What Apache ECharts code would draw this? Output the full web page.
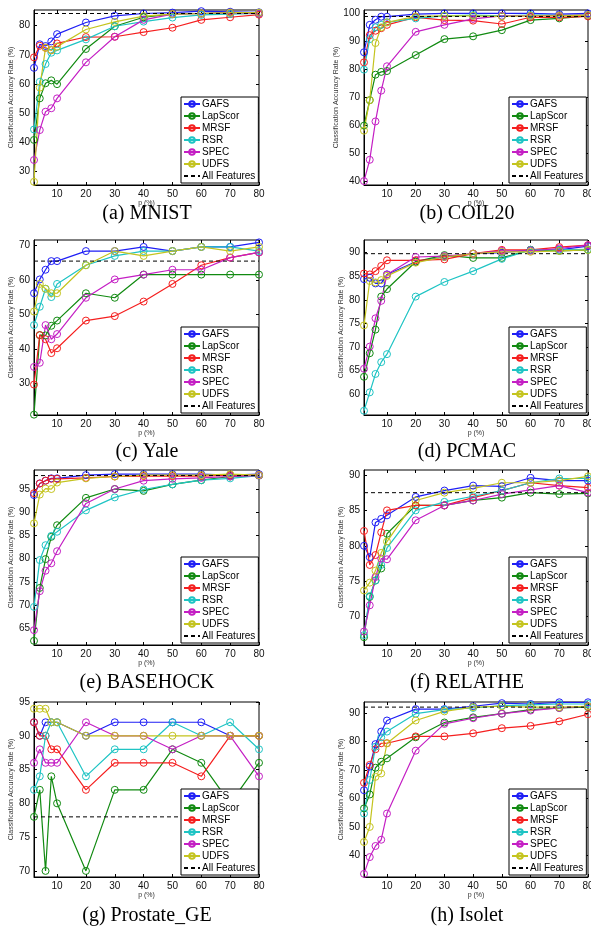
<!DOCTYPE html>
<html>
<head>
<meta charset="utf-8">
<script src="https://cdn.jsdelivr.net/npm/echarts@6/dist/echarts.min.js"></script>
<style>
  html, body { margin: 0; padding: 0; background: #fff; }
  #chart { width: 591px; height: 929px; }
</style>
</head>
<body>
<div id="chart"></div>
<script>
const pValues = [2, 4, 6, 8, 10, 20, 30, 40, 50, 60, 70, 80];
const methods = ['GAFS', 'LapScor', 'MRSF', 'RSR', 'SPEC', 'UDFS'];
const captions = ['(a) MNIST', '(b) COIL20', '(c) Yale', '(d) PCMAC',
  '(e) BASEHOCK', '(f) RELATHE', '(g) Prostate_GE', '(h) Isolet'];

// rows: GAFS, LapScor, MRSF, RSR, SPEC, UDFS
const mnist = [
  [65.5, 73.6, 73.0, 74.6, 77.1, 81.1, 83.4, 84.2, 84.5, 85.0, 84.8, 84.6],
  [40.7, 55.0, 60.2, 61.2, 59.9, 72.0, 79.8, 82.9, 84.0, 84.2, 84.5, 84.2],
  [69.1, 73.1, 72.4, 71.6, 73.9, 76.1, 76.2, 77.8, 79.3, 82.0, 82.9, 83.8],
  [44.3, 60.7, 66.8, 70.7, 71.5, 75.3, 79.8, 81.4, 82.8, 83.7, 84.0, 84.2],
  [33.8, 44.1, 50.4, 51.6, 55.0, 67.4, 76.2, 82.0, 84.0, 84.2, 84.5, 84.2],
  [26.3, 58.7, 72.4, 71.6, 72.8, 78.7, 81.3, 83.3, 84.0, 84.2, 84.5, 84.5]
];
const coil20 = [
  [86.0, 95.8, 97.6, 98.7, 98.7, 99.6, 99.9, 99.9, 99.9, 99.9, 99.6, 99.9],
  [59.8, 68.9, 78.0, 79.0, 79.3, 85.0, 90.7, 91.7, 93.9, 97.5, 98.1, 99.0],
  [82.4, 92.1, 93.7, 94.6, 95.8, 98.5, 97.5, 97.3, 96.1, 98.5, 98.5, 98.8],
  [79.8, 90.7, 94.9, 95.8, 96.7, 98.1, 99.0, 99.3, 99.0, 99.3, 99.3, 99.3],
  [40.0, 47.6, 61.3, 72.3, 81.0, 93.3, 95.8, 97.9, 99.0, 99.0, 99.2, 99.3],
  [58.0, 68.9, 89.3, 94.9, 96.7, 98.8, 99.0, 99.0, 98.8, 99.0, 99.0, 99.3]
];
const yale = [
  [56.1, 60.1, 62.9, 65.4, 65.4, 68.3, 68.3, 69.5, 68.3, 69.5, 69.5, 70.8],
  [21.0, 44.0, 43.9, 46.7, 48.2, 56.1, 54.8, 61.5, 61.5, 61.5, 61.5, 61.5],
  [29.7, 44.0, 42.8, 38.8, 40.2, 48.2, 49.5, 53.7, 58.8, 64.2, 66.4, 67.9],
  [46.9, 52.2, 57.4, 55.0, 58.8, 64.2, 66.9, 68.3, 68.3, 69.5, 69.5, 68.3],
  [34.8, 36.0, 46.9, 42.8, 44.3, 54.8, 60.1, 61.5, 62.9, 62.9, 66.4, 67.9],
  [50.8, 58.8, 57.4, 56.1, 56.1, 64.2, 68.3, 66.9, 68.3, 69.5, 68.3, 69.5]
];
const pcmac = [
  [84.4, 84.7, 83.5, 83.5, 85.4, 88.1, 89.1, 89.8, 90.0, 90.6, 90.6, 91.4],
  [63.7, 68.7, 73.7, 80.7, 82.3, 88.1, 89.5, 88.9, 88.9, 90.6, 90.4, 90.6],
  [85.6, 85.4, 86.1, 87.2, 88.4, 88.4, 88.6, 89.8, 90.6, 90.6, 91.2, 91.6],
  [56.5, 60.4, 64.3, 66.8, 68.5, 80.7, 83.8, 86.1, 88.7, 90.6, 90.6, 90.7],
  [65.4, 70.1, 76.1, 79.8, 85.4, 89.1, 89.3, 89.8, 90.4, 90.4, 90.9, 91.6],
  [74.6, 84.0, 83.7, 84.2, 85.1, 87.9, 89.1, 89.8, 90.2, 90.2, 90.4, 90.6]
];
const basehock = [
  [93.7, 96.2, 96.8, 97.3, 97.3, 98.0, 98.2, 98.2, 98.2, 98.2, 98.0, 98.2],
  [62.3, 73.7, 79.9, 84.7, 87.2, 93.1, 95.0, 94.6, 96.0, 96.9, 97.7, 97.9],
  [94.1, 96.2, 96.8, 97.2, 97.2, 97.4, 97.7, 97.8, 97.8, 97.8, 98.0, 98.0],
  [69.6, 79.7, 82.9, 84.9, 85.8, 90.4, 93.2, 94.9, 96.0, 96.9, 97.3, 97.9],
  [64.6, 73.0, 77.4, 79.0, 81.6, 91.9, 95.0, 96.8, 97.2, 97.4, 97.7, 97.9],
  [87.6, 93.8, 95.1, 95.0, 96.4, 97.3, 97.7, 98.0, 98.0, 98.0, 98.2, 98.0]
];
const relathe = [
  [80.0, 78.4, 83.3, 83.8, 84.3, 86.9, 87.8, 88.5, 88.4, 89.6, 89.2, 89.2],
  [67.1, 72.8, 75.1, 76.8, 81.7, 85.7, 85.7, 86.4, 86.8, 87.5, 87.3, 87.4],
  [82.1, 77.3, 78.7, 81.9, 85.0, 85.7, 85.7, 86.8, 87.8, 88.9, 88.5, 88.2],
  [67.4, 72.9, 75.1, 77.3, 79.7, 85.0, 86.2, 87.0, 87.8, 88.9, 89.5, 89.5],
  [67.9, 71.6, 75.6, 78.2, 78.1, 83.6, 85.7, 86.4, 87.3, 87.9, 88.5, 87.5],
  [73.7, 74.8, 76.5, 79.0, 80.6, 86.4, 87.5, 88.1, 88.9, 88.9, 89.2, 89.8]
];
const prostate = [
  [92, 90, 92, 92, 92, 90, 92, 92, 92, 92, 90, 90],
  [78, 82, 70, 84, 80, 70, 82, 82, 88, 86, 80, 86],
  [92, 90, 90, 88, 88, 82, 86, 86, 86, 84, 90, 90],
  [82, 84, 90, 92, 92, 84, 88, 88, 92, 90, 92, 88],
  [86, 88, 86, 86, 86, 92, 90, 90, 88, 90, 90, 84],
  [94, 94, 94, 92, 92, 90, 90, 90, 90, 90, 90, 90]
];
const isolet = [
  [62.9, 71.2, 79.1, 83.5, 87.4, 91.4, 91.4, 92.4, 93.5, 93.2, 93.8, 93.8],
  [56.5, 61.4, 70.8, 72.9, 74.1, 81.5, 86.7, 88.5, 89.8, 91.2, 91.8, 92.1],
  [65.5, 71.8, 77.3, 79.4, 79.4, 81.8, 81.8, 82.9, 84.7, 85.5, 87.1, 89.6],
  [54.7, 66.5, 78.2, 81.5, 83.5, 89.8, 91.2, 91.8, 92.6, 92.9, 93.2, 93.2],
  [33.5, 39.4, 43.3, 45.5, 54.7, 76.8, 86.2, 88.2, 89.8, 90.9, 91.8, 92.4],
  [44.7, 50.0, 67.6, 68.8, 79.4, 87.4, 90.6, 92.1, 92.4, 92.1, 92.1, 92.4]
];
const datasets = [mnist, coil20, yale, pcmac, basehock, relathe, prostate, isolet];
const allFeatures = [84.2, 98.8, 65.4, 89.8, 97.9, 87.5, 78.0, 92.1];

const xTicks = [10, 20, 30, 40, 50, 60, 70, 80];
const yTicks = [
  [30, 40, 50, 60, 70, 80],
  [40, 50, 60, 70, 80, 90, 100],
  [30, 40, 50, 60, 70],
  [60, 65, 70, 75, 80, 85, 90],
  [65, 70, 75, 80, 85, 90, 95],
  [70, 75, 80, 85, 90],
  [70, 75, 80, 85, 90, 95],
  [40, 50, 60, 70, 80, 90]
];
const yRanges = [
  [25.2, 85.4], [38.6, 101.1], [20.9, 71.5], [55.6, 92.7],
  [61.4, 99.1], [66.0, 90.7], [69.1, 95.0], [32.4, 93.9]
];

const colors = ['#1f1ff5', '#118a11', '#f51f1f', '#1fc4c4', '#c41fc4', '#c4c41f'];
const font = '"Liberation Sans", Arial, Helvetica, sans-serif';
const colLeft = [34, 364];
const colWidth = [225, 224];
const rowTop = [10, 240, 470, 702];
const plotH = 175;
const captionX = [147, 467];
const captionY = [214, 452, 683, 916];

const chart = echarts.init(document.getElementById('chart'));

const grid = [], xAxis = [], yAxis = [], series = [], legend = [], graphic = [];

datasets.forEach((rows, i) => {
  const col = i % 2;
  const row = Math.floor(i / 2);
  grid.push({
    left: colLeft[col], top: rowTop[row], width: colWidth[col], height: plotH,
    show: true, borderColor: '#000', borderWidth: 1,
    containLabel: false, outerBoundsMode: 'none'
  });

  const tick = { inside: true, length: 3, lineStyle: { color: '#000', width: 1 } };
  xAxis.push({
    type: 'value', gridIndex: i, min: 2, max: 80,
    axisLine: { show: true, onZero: false, lineStyle: { color: '#000', width: 1 } },
    axisTick: Object.assign({ customValues: xTicks }, tick),
    axisLabel: { customValues: xTicks, fontSize: 10, color: '#111', margin: 4, fontFamily: font },
    splitLine: { show: false },
    name: 'p (%)', nameLocation: 'middle', nameGap: 12,
    nameTextStyle: { fontSize: 7, color: '#333', fontFamily: font }
  });
  xAxis.push({
    type: 'value', gridIndex: i, min: 2, max: 80, position: 'top',
    axisLine: { show: false },
    axisTick: Object.assign({ customValues: xTicks }, tick),
    axisLabel: { show: false }, splitLine: { show: false }
  });
  yAxis.push({
    type: 'value', gridIndex: i, min: yRanges[i][0], max: yRanges[i][1],
    axisLine: { show: true, onZero: false, lineStyle: { color: '#000', width: 1 } },
    axisTick: Object.assign({ customValues: yTicks[i] }, tick),
    axisLabel: { customValues: yTicks[i], fontSize: 10, color: '#111', margin: 4, fontFamily: font },
    splitLine: { show: false },
    name: 'Classification Accuracy Rate (%)', nameLocation: 'middle',
    nameGap: col === 0 ? 13 : 16, nameRotate: 90,
    nameTextStyle: { fontSize: 7, color: '#333', fontFamily: font }
  });
  yAxis.push({
    type: 'value', gridIndex: i, min: yRanges[i][0], max: yRanges[i][1], position: 'right',
    axisLine: { show: false },
    axisTick: Object.assign({ customValues: yTicks[i] }, tick),
    axisLabel: { show: false }, splitLine: { show: false }
  });

  rows.forEach((vals, m) => {
    series.push({
      name: methods[m], type: 'line', xAxisIndex: 2 * i, yAxisIndex: 2 * i,
      data: pValues.map((p, k) => [p, vals[k]]),
      symbol: 'circle', symbolSize: 7,
      itemStyle: { color: 'rgba(255,255,255,0)', borderColor: colors[m], borderWidth: 1 },
      lineStyle: { color: colors[m], width: 1.2 },
      emphasis: { disabled: true }, animation: false
    });
  });
  series.push({
    name: 'All Features', type: 'line', xAxisIndex: 2 * i, yAxisIndex: 2 * i,
    data: [[pValues[0], allFeatures[i]], [pValues[pValues.length - 1], allFeatures[i]]],
    symbol: 'none',
    itemStyle: { color: 'rgba(0,0,0,0)', borderColor: 'rgba(0,0,0,0)', borderWidth: 0 },
    lineStyle: { color: '#000', width: 1, type: [4, 3] },
    emphasis: { disabled: true }, animation: false
  });

  legend.push({
    left: col === 0 ? 181 : 509, top: rowTop[row] + 87,
    orient: 'vertical', selectedMode: false,
    data: methods.concat([{
      name: 'All Features',
      itemStyle: { color: 'rgba(0,0,0,0)', borderColor: 'rgba(0,0,0,0)', borderWidth: 0 }
    }]),
    backgroundColor: '#fff', borderColor: '#000', borderWidth: 1,
    padding: [2, 3, 2, 2], itemWidth: 16, itemHeight: 7, itemGap: 2,
    textStyle: { fontSize: 10, color: '#000', fontFamily: font, lineHeight: 10, padding: [0, 0, 0, -3] }
  });

  graphic.push({
    type: 'text', x: captionX[col], y: captionY[row],
    style: {
      text: captions[i], fill: '#000', fontSize: 20,
      fontFamily: '"Liberation Serif", "DejaVu Serif", serif',
      align: 'center', verticalAlign: 'middle'
    }
  });
});

chart.setOption({
  animation: false,
  backgroundColor: '#fff',
  grid: grid,
  xAxis: xAxis,
  yAxis: yAxis,
  legend: legend,
  series: series,
  graphic: graphic
});
</script>
</body>
</html>
